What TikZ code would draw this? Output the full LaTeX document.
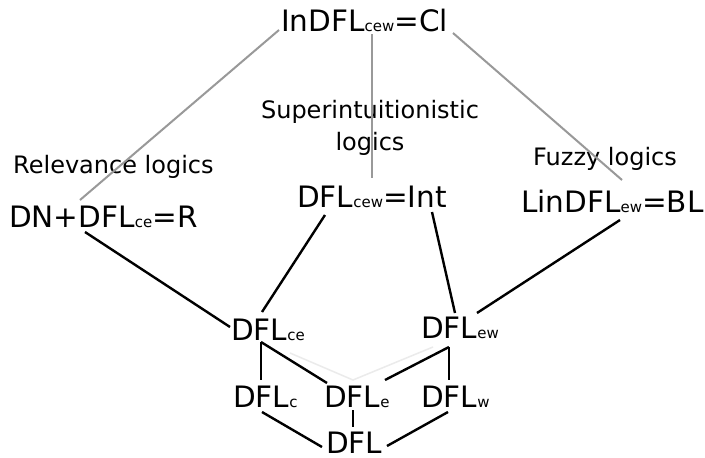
\documentclass[tikz,border=0pt]{standalone}
\usepackage{fontspec}
\setmainfont{DejaVu Sans}
\usetikzlibrary{calc}
\newcommand{\lsub}[1]{{\fontsize{15}{15}\selectfont #1}}
\begin{document}
\begin{tikzpicture}[x=1pt,y=-1pt,
  mainlbl/.style={inner sep=0pt,anchor=base west,font=\fontsize{29.5}{32}\selectfont},
  famlbl/.style={inner sep=0pt,anchor=base west,font=\fontsize{24}{32}\selectfont},
  upper/.style={draw=black!40,line width=2pt},
  lower/.style={draw=black,line width=2.4pt},
  ghost/.style={draw=black!8,line width=1.5pt}]
\useasboundingbox[fill=white] (0,0) rectangle (705,458);
% nodes
\node[mainlbl] (top) at (281,31) {InDFL\lsub{cew}=Cl};
\node[famlbl] (rel) at (13,173) {Relevance logics};
\node[mainlbl] (dn) at (9,227) {DN+DFL\lsub{ce}=R};
\node[famlbl,anchor=base,align=center] (super) at (370,150) {Superintuitionistic\\logics};
\node[mainlbl] (int) at (297,207) {DFL\lsub{cew}=Int};
\node[famlbl] (fuzzy) at (533,165) {Fuzzy logics};
\node[mainlbl] (lin) at (521,212) {LinDFL\lsub{ew}=BL};
\node[mainlbl] (ce) at (231,340) {DFL\lsub{ce}};
\node[mainlbl] (ew) at (421,338) {DFL\lsub{ew}};
\node[mainlbl] (c) at (233,407) {DFL\lsub{c}};
\node[mainlbl] (e) at (324,407) {DFL\lsub{e}};
\node[mainlbl] (w) at (421,407) {DFL\lsub{w}};
\node[mainlbl] (dfl) at (326,453) {DFL};
% faint lines
\draw[ghost] ($(ce.base west)+(59,13)$) -- ($(e.base west)+(29,-27)$) -- ($(ew.base west)+(12,9)$);
% upper connectors
\draw[upper] ($(top.base west)+(-2,-1)$) -- ($(dn.base west)+(71,-27)$);
\draw[upper] ($(top.base west)+(91,3)$) -- ($(int.base west)+(75,-29)$);
\draw[upper] ($(top.base west)+(172,2)$) -- ($(lin.base west)+(101,-32)$);
% lower connectors
\draw[lower] ($(dn.base west)+(76,5)$) -- ($(ce.base west)+(-1,-13)$);
\draw[lower] ($(int.base west)+(28,8)$) -- ($(ce.base west)+(31,-28)$);
\draw[lower] ($(int.base west)+(135,5)$) -- ($(ew.base west)+(34,-25)$);
\draw[lower] ($(lin.base west)+(99,8)$) -- ($(ew.base west)+(56,-25)$);
\draw[lower] ($(ce.base west)+(30,2)$) -- ($(c.base west)+(28,-27)$);
\draw[lower] ($(ce.base west)+(30,2)$) -- ($(e.base west)+(3,-24)$);
\draw[lower] ($(ew.base west)+(28,9)$) -- ($(e.base west)+(61,-27)$);
\draw[lower] ($(ew.base west)+(28,9)$) -- ($(w.base west)+(28,-27)$);
\draw[lower] ($(c.base west)+(29,5)$) -- ($(dfl.base west)+(-4,-6)$);
\draw[lower] ($(e.base west)+(29,3)$) -- ($(dfl.base west)+(27,-26)$);
\draw[lower] ($(w.base west)+(27,5)$) -- ($(dfl.base west)+(61,-7)$);
\end{tikzpicture}
\end{document}
